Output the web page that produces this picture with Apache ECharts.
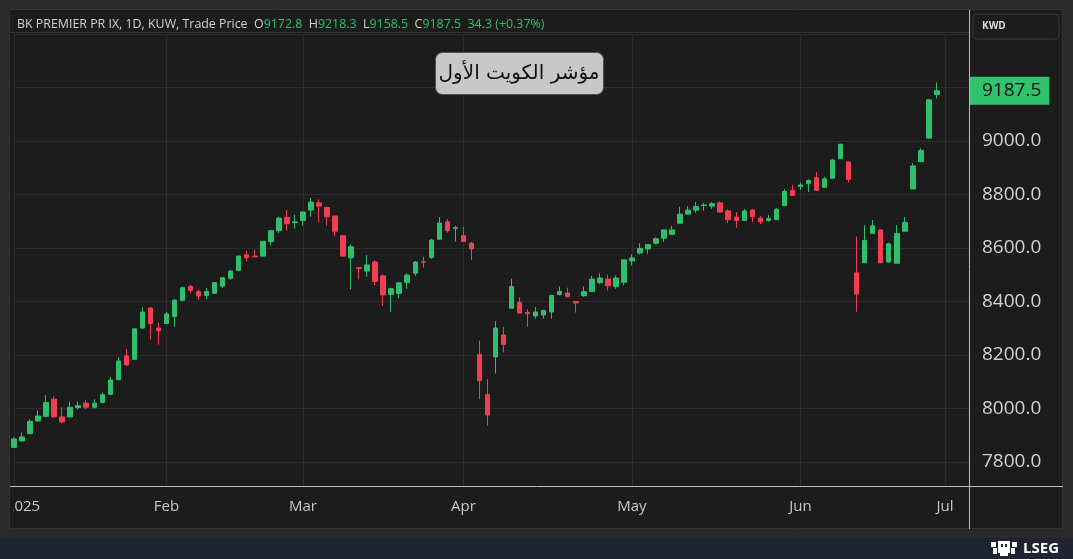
<!DOCTYPE html>
<html><head><meta charset="utf-8">
<script src="https://cdn.jsdelivr.net/npm/echarts@6/dist/echarts.min.js"></script>
<style>html,body{margin:0;padding:0;background:#2a2a2a;}#c{width:1073px;height:559px;}</style>
</head><body><div id="c"></div>
<script>
// Trading days (Kuwait, Sun-Thu) per month
const tradingDays = {
  '2025-01': [5,6,7,8,9,12,13,14,15,16,19,20,21,22,23,26,27,28,29],
  '2025-02': [2,3,4,5,6,9,10,11,12,13,16,17,18,19,20,23,24],
  '2025-03': [2,3,4,5,6,9,10,11,12,13,16,17,18,19,20,23,24,25,26,27],
  '2025-04': [2,3,6,7,8,9,10,13,14,15,16,17,20,21,22,23,24,27,28,29,30],
  '2025-05': [1,4,5,6,7,8,11,12,13,14,15,18,19,20,21,22,25,26,27,28,29],
  '2025-06': [1,2,3,4,10,11,12,15,16,17,18,19,22,23,24,25,29,30],
  '2025-07': [1,2,3,6]
};
const monthNames = {'2025-01':'2025','2025-02':'Feb','2025-03':'Mar','2025-04':'Apr','2025-05':'May','2025-06':'Jun','2025-07':'Jul'};
const categories = [];
Object.keys(tradingDays).forEach(m => tradingDays[m].forEach(d => categories.push(m + '-' + String(d).padStart(2,'0'))));

const openP  = [7854,7878,7905,7953,7970,8034,7968,7968,8003,8019,8004,8022,8052,8107,8196,8183,8300,8375,8300,8317,
  8343,8404,8456,8436,8422,8430,8457,8486,8515,8574,8569,8569,8623,8664,8714,8694,8702,8741,8768,8751,
  8719,8645,8563,8526,8513,8547,8495,8426,8430,8470,8505,8548,8564,8632,8697,8672,8645,8617,8202,8051,
  8192,8274,8374,8396,8358,8345,8349,8360,8425,8431,8399,8421,8437,8470,8483,8455,8471,8551,8581,8596,
  8617,8636,8650,8692,8726,8741,8758,8756,8768,8738,8715,8702,8741,8711,8702,8705,8758,8815,8829,8840,
  8862,8826,8860,8933,8921,8506,8544,8654,8667,8547,8542,8662,8820,8922,9010,9172.8];
const closeP = [7885,7893,7951,7971,8022,7968,7949,8004,8010,8004,8019,8051,8106,8177,8162,8297,8360,8317,8290,8353,
  8404,8451,8441,8420,8437,8470,8488,8513,8569,8563,8566,8624,8664,8711,8690,8697,8734,8771,8756,8716,
  8662,8569,8604,8522,8536,8474,8424,8447,8469,8498,8547,8546,8629,8693,8664,8675,8624,8596,8103,7975,
  8300,8239,8456,8356,8354,8360,8366,8422,8437,8417,8394,8436,8483,8487,8458,8487,8555,8562,8598,8612,
  8634,8667,8667,8726,8741,8754,8760,8765,8734,8705,8702,8738,8716,8697,8709,8744,8811,8796,8835,8852,
  8815,8858,8928,8987,8856,8427,8627,8682,8544,8615,8653,8695,8906,8964,9153.2,9187.5];
const lowP   = [7852,7876,7904,7949,7967,7966,7946,7966,7996,7997,7999,8019,8050,8106,8160,8181,8296,8257,8238,8317,
  8305,8403,8430,8405,8407,8428,8450,8480,8513,8550,8565,8567,8609,8655,8664,8672,8683,8716,8694,8683,
  8643,8567,8445,8482,8492,8460,8383,8361,8411,8447,8495,8526,8559,8632,8657,8623,8624,8554,8034,7935,
  8130,8209,8374,8354,8305,8335,8335,8335,8422,8415,8358,8417,8435,8465,8440,8447,8460,8533,8574,8577,
  8613,8622,8650,8692,8724,8731,8739,8746,8731,8693,8675,8702,8697,8689,8697,8705,8756,8796,8817,8808,
  8815,8826,8860,8933,8844,8361,8544,8654,8544,8544,8542,8662,8820,8922,9009,9158.5];
const highP  = [7892,7910,7959,7992,8049,8044,8004,8026,8026,8030,8034,8059,8117,8191,8222,8299,8378,8378,8320,8360,
  8409,8455,8462,8445,8449,8472,8490,8517,8571,8588,8592,8626,8666,8715,8741,8723,8736,8786,8781,8754,
  8720,8649,8613,8528,8573,8554,8502,8451,8470,8505,8551,8566,8634,8715,8708,8682,8679,8623,8253,8110,
  8326,8304,8485,8415,8371,8379,8368,8424,8456,8451,8400,8456,8495,8505,8500,8496,8556,8576,8617,8614,
  8639,8668,8682,8753,8756,8771,8768,8771,8774,8745,8734,8745,8745,8719,8723,8748,8819,8835,8844,8856,
  8883,8865,8932,8989,8922,8642,8685,8704,8668,8619,8685,8715,8916,8972,9156,9218.3];
const yTickLabels = [7800,8000,8200,8400,8600,8800,9000,9200];

const GREEN = '#2fbf6c', RED = '#f23e52';
const n = closeP.length;
const candleData = openP.map((o,i) => [o, closeP[i], lowP[i], highP[i]]);
const monthStarts = [];
categories.forEach((c,i) => { if (i === 0 || c.slice(0,7) !== categories[i-1].slice(0,7)) monthStarts.push(i); });
const lastO = openP[n-1], lastH = highP[n-1], lastL = lowP[n-1], lastC = closeP[n-1];
const chg = lastC - closeP[n-2];
const pct = chg / closeP[n-2] * 100;
const fmt = v => v.toFixed(1);

const chart = echarts.init(document.getElementById('c'));
const FONT = 'Open Sans';
const HF = '12.4px "Open Sans"';
chart.setOption({
  animation: false,
  backgroundColor: '#2a2a2a',
  textStyle: { fontFamily: FONT },
  grid: { left: 14, right: 104, top: 33.8, bottom: 72.3 },
  xAxis: {
    type: 'category', data: categories, boundaryGap: false,
    axisLine: { show: false }, axisTick: { show: false },
    axisLabel: {
      interval: (i) => monthStarts.includes(i),
      color: '#c8c8c8', fontSize: 15, margin: 13, fontFamily: FONT,
      formatter: (v) => { const nm = monthNames[v.slice(0,7)]; return nm === '2025' ? '{y|2025}' : nm; },
      rich: { y: { padding: [0,0,0,18], fontSize: 15, color: '#c8c8c8', fontFamily: FONT } }
    },
    splitLine: { show: true, interval: (i) => monthStarts.includes(i), lineStyle: { color: '#2c2c2c', width: 1 } }
  },
  yAxis: {
    type: 'value', position: 'right', min: 7707, max: 9400, scale: true,
    splitNumber: 8, minInterval: 200, maxInterval: 200,
    axisLine: { show: false }, axisTick: { show: false },
    axisLabel: {
      color: '#d2d2d2', fontSize: 19, margin: 13, fontFamily: FONT,
      formatter: (v) => yTickLabels.includes(Math.round(v)) ? fmt(v) : ''
    },
    splitLine: { show: true, lineStyle: { color: '#2c2c2c', width: 1 } }
  },
  series: [{
    type: 'candlestick', data: candleData, barWidth: 5, clip: false,
    itemStyle: { color: GREEN, color0: RED, borderColor: GREEN, borderColor0: RED, borderWidth: 1 },
    markLine: {
      silent: true, symbol: ['none', 'none'],
      lineStyle: { color: 'rgba(0,0,0,0)', width: 1, type: 'solid' },
      data: [{ yAxis: lastC }],
      label: {
        show: true, position: 'end', distance: 1,
        formatter: () => fmt(lastC),
        backgroundColor: '#31c26e', color: '#0d0d0d', fontSize: 19, fontFamily: FONT,
        padding: [4, 8, 4, 12], lineHeight: 20, align: 'left'
      }
    }
  }],
  graphic: [
    { type: 'rect', z: -100, shape: { x: 9.5, y: 9.5, width: 1053, height: 519 }, style: { fill: '#1c1c1c', stroke: '#333', lineWidth: 1 } },
    { type: 'rect', z: -100, shape: { x: 0, y: 538, width: 1073, height: 21 }, style: { fill: '#1f2433' } },
    // cover to clip axis label at panel edge
    { type: 'rect', z: 100, shape: { x: 0, y: 487, width: 9, height: 42 }, style: { fill: '#2a2a2a' } },
    { type: 'rect', z: 100, shape: { x: 9.5, y: 487, width: 3.5, height: 41 }, style: { fill: '#1c1c1c' } },
    { type: 'line', z: 100, shape: { x1: 9.5, y1: 9.5, x2: 9.5, y2: 529 }, style: { stroke: '#333', lineWidth: 1 } },
    // separators
    { type: 'line', z: 50, shape: { x1: 10, y1: 32.5, x2: 969, y2: 32.5 }, style: { stroke: '#333', lineWidth: 1 } },
    { type: 'line', z: 50, shape: { x1: 969.5, y1: 10, x2: 969.5, y2: 529 }, style: { stroke: '#bdbdbd', lineWidth: 1 } },
    { type: 'line', z: 50, shape: { x1: 10, y1: 486.5, x2: 1063, y2: 486.5 }, style: { stroke: '#bdbdbd', lineWidth: 1 } },
    // header
    { type: 'text', z: 50, x: 17, y: 24.5, style: {
        text: '{t|BK PREMIER PR IX, 1D, KUW, Trade Price}  {t|O}{g|' + fmt(lastO) + '}  {t|H}{g|' + fmt(lastH) + '}  {t|L}{g|' + fmt(lastL) + '}  {t|C}{g|' + fmt(lastC) + '}  {g|' + chg.toFixed(1) + ' (+' + pct.toFixed(2) + '%)}',
        verticalAlign: 'middle', font: HF,
        rich: { t: { fill: '#d0d0d0', font: HF }, g: { fill: '#2fbf6c', font: HF } }
    } },
    // KWD box
    { type: 'rect', z: 50, shape: { x: 973, y: 14, width: 86, height: 25, r: 4 }, style: { fill: '#1c1c1c', stroke: '#3a3a3a', lineWidth: 1 } },
    { type: 'text', z: 51, x: 982, y: 26.5, style: { text: 'KWD', fill: '#dcdcdc', font: 'bold 10px "Open Sans"', verticalAlign: 'middle' } },
    // Arabic title box
    { type: 'rect', z: 50, shape: { x: 435.5, y: 52.5, width: 168, height: 42, r: 7 }, style: { fill: '#c8c8c8', stroke: '#505050', lineWidth: 1 } },
    { type: 'text', z: 51, x: 519, y: 73.5, style: { text: 'مؤشر الكويت الأول', fill: '#111', font: '20px "DejaVu Sans"', align: 'center', verticalAlign: 'middle' } },
    // LSEG logo
    { type: 'group', z: 60, x: 991, y: 541, children: [
      { type: 'rect', shape: { x: 0, y: 1, width: 5, height: 5 }, style: { fill: '#fff' } },
      { type: 'rect', shape: { x: 7, y: 0, width: 12, height: 12 }, style: { fill: '#fff' } },
      { type: 'rect', shape: { x: 21, y: 1, width: 5, height: 5 }, style: { fill: '#fff' } },
      { type: 'rect', shape: { x: 2, y: 7, width: 4, height: 6 }, style: { fill: '#fff' } },
      { type: 'rect', shape: { x: 20, y: 7, width: 4, height: 6 }, style: { fill: '#fff' } },
      { type: 'rect', shape: { x: 9, y: 12, width: 8, height: 3 }, style: { fill: '#fff' } },
      { type: 'rect', shape: { x: 10, y: 3, width: 2, height: 3 }, style: { fill: '#1f2433' } },
      { type: 'rect', shape: { x: 14, y: 3, width: 2, height: 3 }, style: { fill: '#1f2433' } }
    ] },
    { type: 'text', z: 60, x: 1023, y: 548.5, style: { text: 'LSEG', fill: '#ffffff', font: 'bold 15px "Open Sans"', verticalAlign: 'middle' } }
  ]
});
</script></body></html>
